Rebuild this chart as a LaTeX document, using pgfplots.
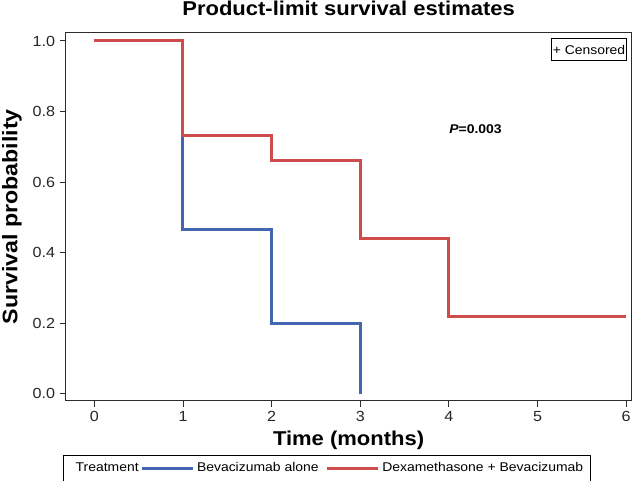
\documentclass[border=0pt]{standalone}
\usepackage{pgfplots}
\pgfplotsset{compat=1.18}
\usepackage{fontspec}
\setmainfont[FakeStretch=1.1]{Liberation Sans}
\definecolor{kmblue}{RGB}{68,102,176}
\definecolor{kmred}{RGB}{206,76,76}
\definecolor{framec}{RGB}{45,45,45}
\begin{document}
\begin{tikzpicture}
\begin{axis}[
  scale only axis,
  width=424.35pt, height=276pt,
  xmin=-0.323, xmax=6.06,
  ymin=-0.019, ymax=1.0235,
  xtick={0,1,2,3,4,5,6},
  xticklabels={0,1,2,3,4,5,6},
  ytick={0,0.2,0.4,0.6,0.8,1.0},
  yticklabels={0.0,0.2,0.4,0.6,0.8,1.0},
  xtick pos=bottom, ytick pos=left,
  tick align=outside,
  major tick length=4.5pt,
  tick style={color=framec, line width=0.7pt},
  axis line style={color=framec, line width=0.8pt},
  ticklabel style={font=\fontsize{11}{13}\selectfont, color=black!85},
  every axis title/.style={at={(0.5,1)}, anchor=base, yshift=12.75pt, font=\fontsize{15}{18}\selectfont\bfseries},
  title={Product-limit survival estimates},
  every axis x label/.style={at={(axis description cs:0.5,0)}, anchor=base, yshift=-33.75pt, font=\fontsize{15}{18}\selectfont\bfseries},
  xlabel={Time (months)},
  every axis y label/.style={at={(axis description cs:-0.0949,0.5)}, rotate=90, anchor=center, font=\fontsize{15.8}{18}\selectfont\bfseries},
  ylabel={Survival probability},
  legend columns=3,
  legend style={at={(0,0)}, anchor=north west, xshift=-1.8pt, yshift=-40.7pt,
    draw=black, line width=0.6pt, font=\fontsize{9.5}{11}\selectfont,
    /tikz/every even column/.append style={column sep=3.5pt},
    inner xsep=3pt, inner ysep=3.5pt},
  legend cell align=left,
  legend image code/.code={\draw[#1, line width=2.25pt] (0pt,0pt) -- (38pt,0pt);},
]
\addlegendimage{empty legend}
\addplot[kmblue, line width=2.25pt, const plot, mark=none] coordinates {
  (0,1) (1,0.4667) (2,0.2) (3,0)
};
\addplot[kmred, line width=2.25pt, const plot, mark=none] coordinates {
  (0,1) (1,0.7333) (2,0.66) (3,0.44) (4,0.22) (6,0.22)
};
\legend{\hspace*{4pt}Treatment\hspace*{-4pt}, Bevacizumab alone, Dexamethasone + Bevacizumab}
\node[font=\fontsize{9.5}{11}\selectfont\bfseries] at (axis cs:4.30,0.751) {\textit{P}=0.003};
\node[draw=black, line width=0.6pt, anchor=north east, inner xsep=1.2pt, inner ysep=4.6pt,
  text height=7pt, text depth=0pt, font=\fontsize{9.5}{11}\selectfont,
  xshift=-3.2pt, yshift=-4.2pt] at (rel axis cs:1,1) {+ Censored};
\end{axis}
\pgfresetboundingbox
\path ([xshift=-49.3pt, yshift=-60.2pt]current axis.south west) rectangle ([xshift=1.9pt, yshift=24.5pt]current axis.north east);
\end{tikzpicture}
\end{document}
